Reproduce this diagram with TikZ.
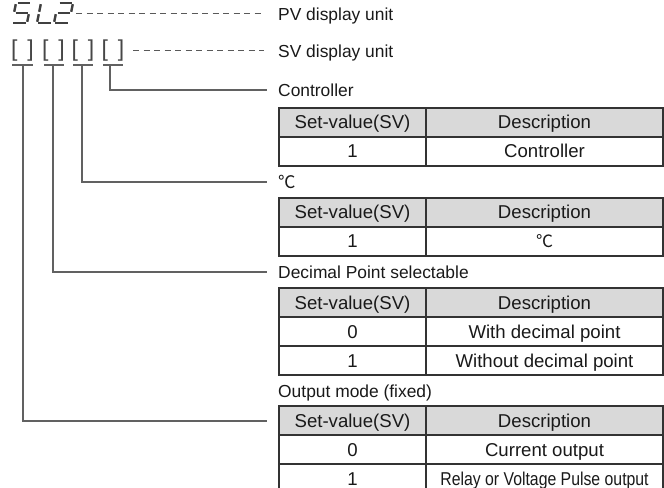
\documentclass[tikz,border=0pt]{standalone}
\usepackage{fontspec}
\setmainfont{Liberation Sans}
\newfontfamily\cjk{Noto Sans CJK SC}
\begin{document}
\begin{tikzpicture}[x=1bp,y=-1bp,
  lbl/.style={anchor=base west,inner sep=0,font=\fontsize{17.4bp}{20bp}\selectfont,text=black!90},
  cell/.style={anchor=base,inner sep=0,font=\fontsize{18.6bp}{21bp}\selectfont,text=black!90},
  hdr/.style={fill=black!15},
  tbl/.style={draw=black!80,line width=1.2bp},
  conn/.style={draw=black!62,line width=1.1bp},
  dline/.style={draw=black!65,line width=1bp,dash pattern=on 6bp off 4.5bp},
  seg/.style={draw=black!75,line width=2.4bp},
  brk/.style={inner sep=0,font=\fontsize{23bp}{24bp}\selectfont,text=black!72}]
\useasboundingbox (0,0) rectangle (664,488);

% ---- seven segment "5L2"
\begin{scope}[shift={(16,3)},xslant=0.2]
 \draw[seg] (1.5,0)--(14,0);
 \draw[seg] (0,1.2)--(0,8.8);
 \draw[seg] (1.5,10)--(13.5,10);
 \draw[seg] (15,11.2)--(15,18.8);
 \draw[seg] (1,20)--(13.5,20);
\end{scope}
\begin{scope}[shift={(41,3)},xslant=0.2]
 \draw[seg] (0,1.2)--(0,8.8);
 \draw[seg] (0,11.2)--(0,18.8);
 \draw[seg] (1,20)--(13.5,20);
\end{scope}
\begin{scope}[shift={(58,3)},xslant=0.2]
 \draw[seg] (1.5,0)--(14,0);
 \draw[seg] (15,1.2)--(15,8.8);
 \draw[seg] (1.5,10)--(13.5,10);
 \draw[seg] (0,11.2)--(0,18.8);
 \draw[seg] (1,20)--(13.5,20);
\end{scope}

% ---- brackets
\node[brk] (b1) at (22.5,51) {[\hspace*{10bp}]};
\node[brk] (b2) at (53.5,51) {[\hspace*{10bp}]};
\node[brk] (b3) at (83,51) {[\hspace*{10bp}]};
\node[brk] (b4) at (113,51) {[\hspace*{10bp}]};

% ---- labels
\node[lbl] (pv) at (278,20.2) {PV display unit};
\node[lbl] (sv) at (278,57.2) {SV display unit};
\node[lbl] (lc) at (278,96.2) {Controller};
\node[lbl] (ld) at (278,188.2) {\cjk ℃};
\node[lbl] (lp) at (278,278.2) {Decimal Point selectable};
\node[lbl] (lo) at (278,397.2) {Output mode (fixed)};

% ---- dashed leaders
\coordinate (pvs) at (76,14);
\coordinate (pve) at (264,14);
\coordinate (svs) at (133,51);
\coordinate (sve) at (264,51);
\draw[dline] (pvs) -- (pve);
\draw[dline] (svs) -- (sve);

% ---- tick bars and connectors
\coordinate (t1a) at (12,65); \coordinate (t1b) at (33,65); \coordinate (v1) at (23,65);
\coordinate (t2a) at (44,65); \coordinate (t2b) at (64,65); \coordinate (v2) at (53,65);
\coordinate (t3a) at (73,65); \coordinate (t3b) at (93,65); \coordinate (v3) at (82,65);
\coordinate (t4a) at (103,65); \coordinate (t4b) at (123,65); \coordinate (v4) at (110,65);
\coordinate (e4) at (267,90);
\coordinate (e3) at (267,182);
\coordinate (e2) at (267,272);
\coordinate (e1) at (267,421);
\draw[conn] (t1a) -- (t1b);
\draw[conn] (t2a) -- (t2b);
\draw[conn] (t3a) -- (t3b);
\draw[conn] (t4a) -- (t4b);
\draw[conn] (v4) |- (e4);
\draw[conn] (v3) |- (e3);
\draw[conn] (v2) |- (e2);
\draw[conn] (v1) |- (e1);

% ---- table 1
\fill[hdr] (279,108) rectangle (663,137);
\draw[tbl] (279,108) rectangle (663,166);
\draw[tbl] (279,137) -- (663,137);
\draw[tbl] (426,108) -- (426,166);
\node[cell] (a11) at (352.5,129) {Set-value(SV)};
\node[cell] (a12) at (544.5,129) {Description};
\node[cell] (a21) at (352.5,158) {1};
\node[cell] (a22) at (544.5,158) {Controller};

% ---- table 2
\fill[hdr] (279,198) rectangle (663,227);
\draw[tbl] (279,198) rectangle (663,256);
\draw[tbl] (279,227) -- (663,227);
\draw[tbl] (426,198) -- (426,256);
\node[cell] (b11) at (352.5,219) {Set-value(SV)};
\node[cell] (b12) at (544.5,219) {Description};
\node[cell] (b21) at (352.5,248) {1};
\node[cell] (b22) at (544.5,248) {\cjk\fontsize{17bp}{20bp}\selectfont ℃};

% ---- table 3
\fill[hdr] (279,288) rectangle (663,317);
\draw[tbl] (279,288) rectangle (663,375);
\draw[tbl] (279,317) -- (663,317);
\draw[tbl] (279,346) -- (663,346);
\draw[tbl] (426,288) -- (426,375);
\node[cell] (c11) at (352.5,309) {Set-value(SV)};
\node[cell] (c12) at (544.5,309) {Description};
\node[cell] (c21) at (352.5,338) {0};
\node[cell] (c22) at (544.5,338) {With decimal point};
\node[cell] (c31) at (352.5,367) {1};
\node[cell] (c32) at (544.5,367) {Without decimal point};

% ---- table 4
\fill[hdr] (279,406) rectangle (663,435);
\draw[tbl] (279,406) rectangle (663,493);
\draw[tbl] (279,435) -- (663,435);
\draw[tbl] (279,464) -- (663,464);
\draw[tbl] (426,406) -- (426,493);
\node[cell] (d11) at (352.5,427) {Set-value(SV)};
\node[cell] (d12) at (544.5,427) {Description};
\node[cell] (d21) at (352.5,456) {0};
\node[cell] (d22) at (544.5,456) {Current output};
\node[cell] (d31) at (352.5,485) {1};
\node[cell] (d32) at (544.5,485) {\scalebox{0.85}[1]{Relay or Voltage Pulse output}};
\end{tikzpicture}
\end{document}
